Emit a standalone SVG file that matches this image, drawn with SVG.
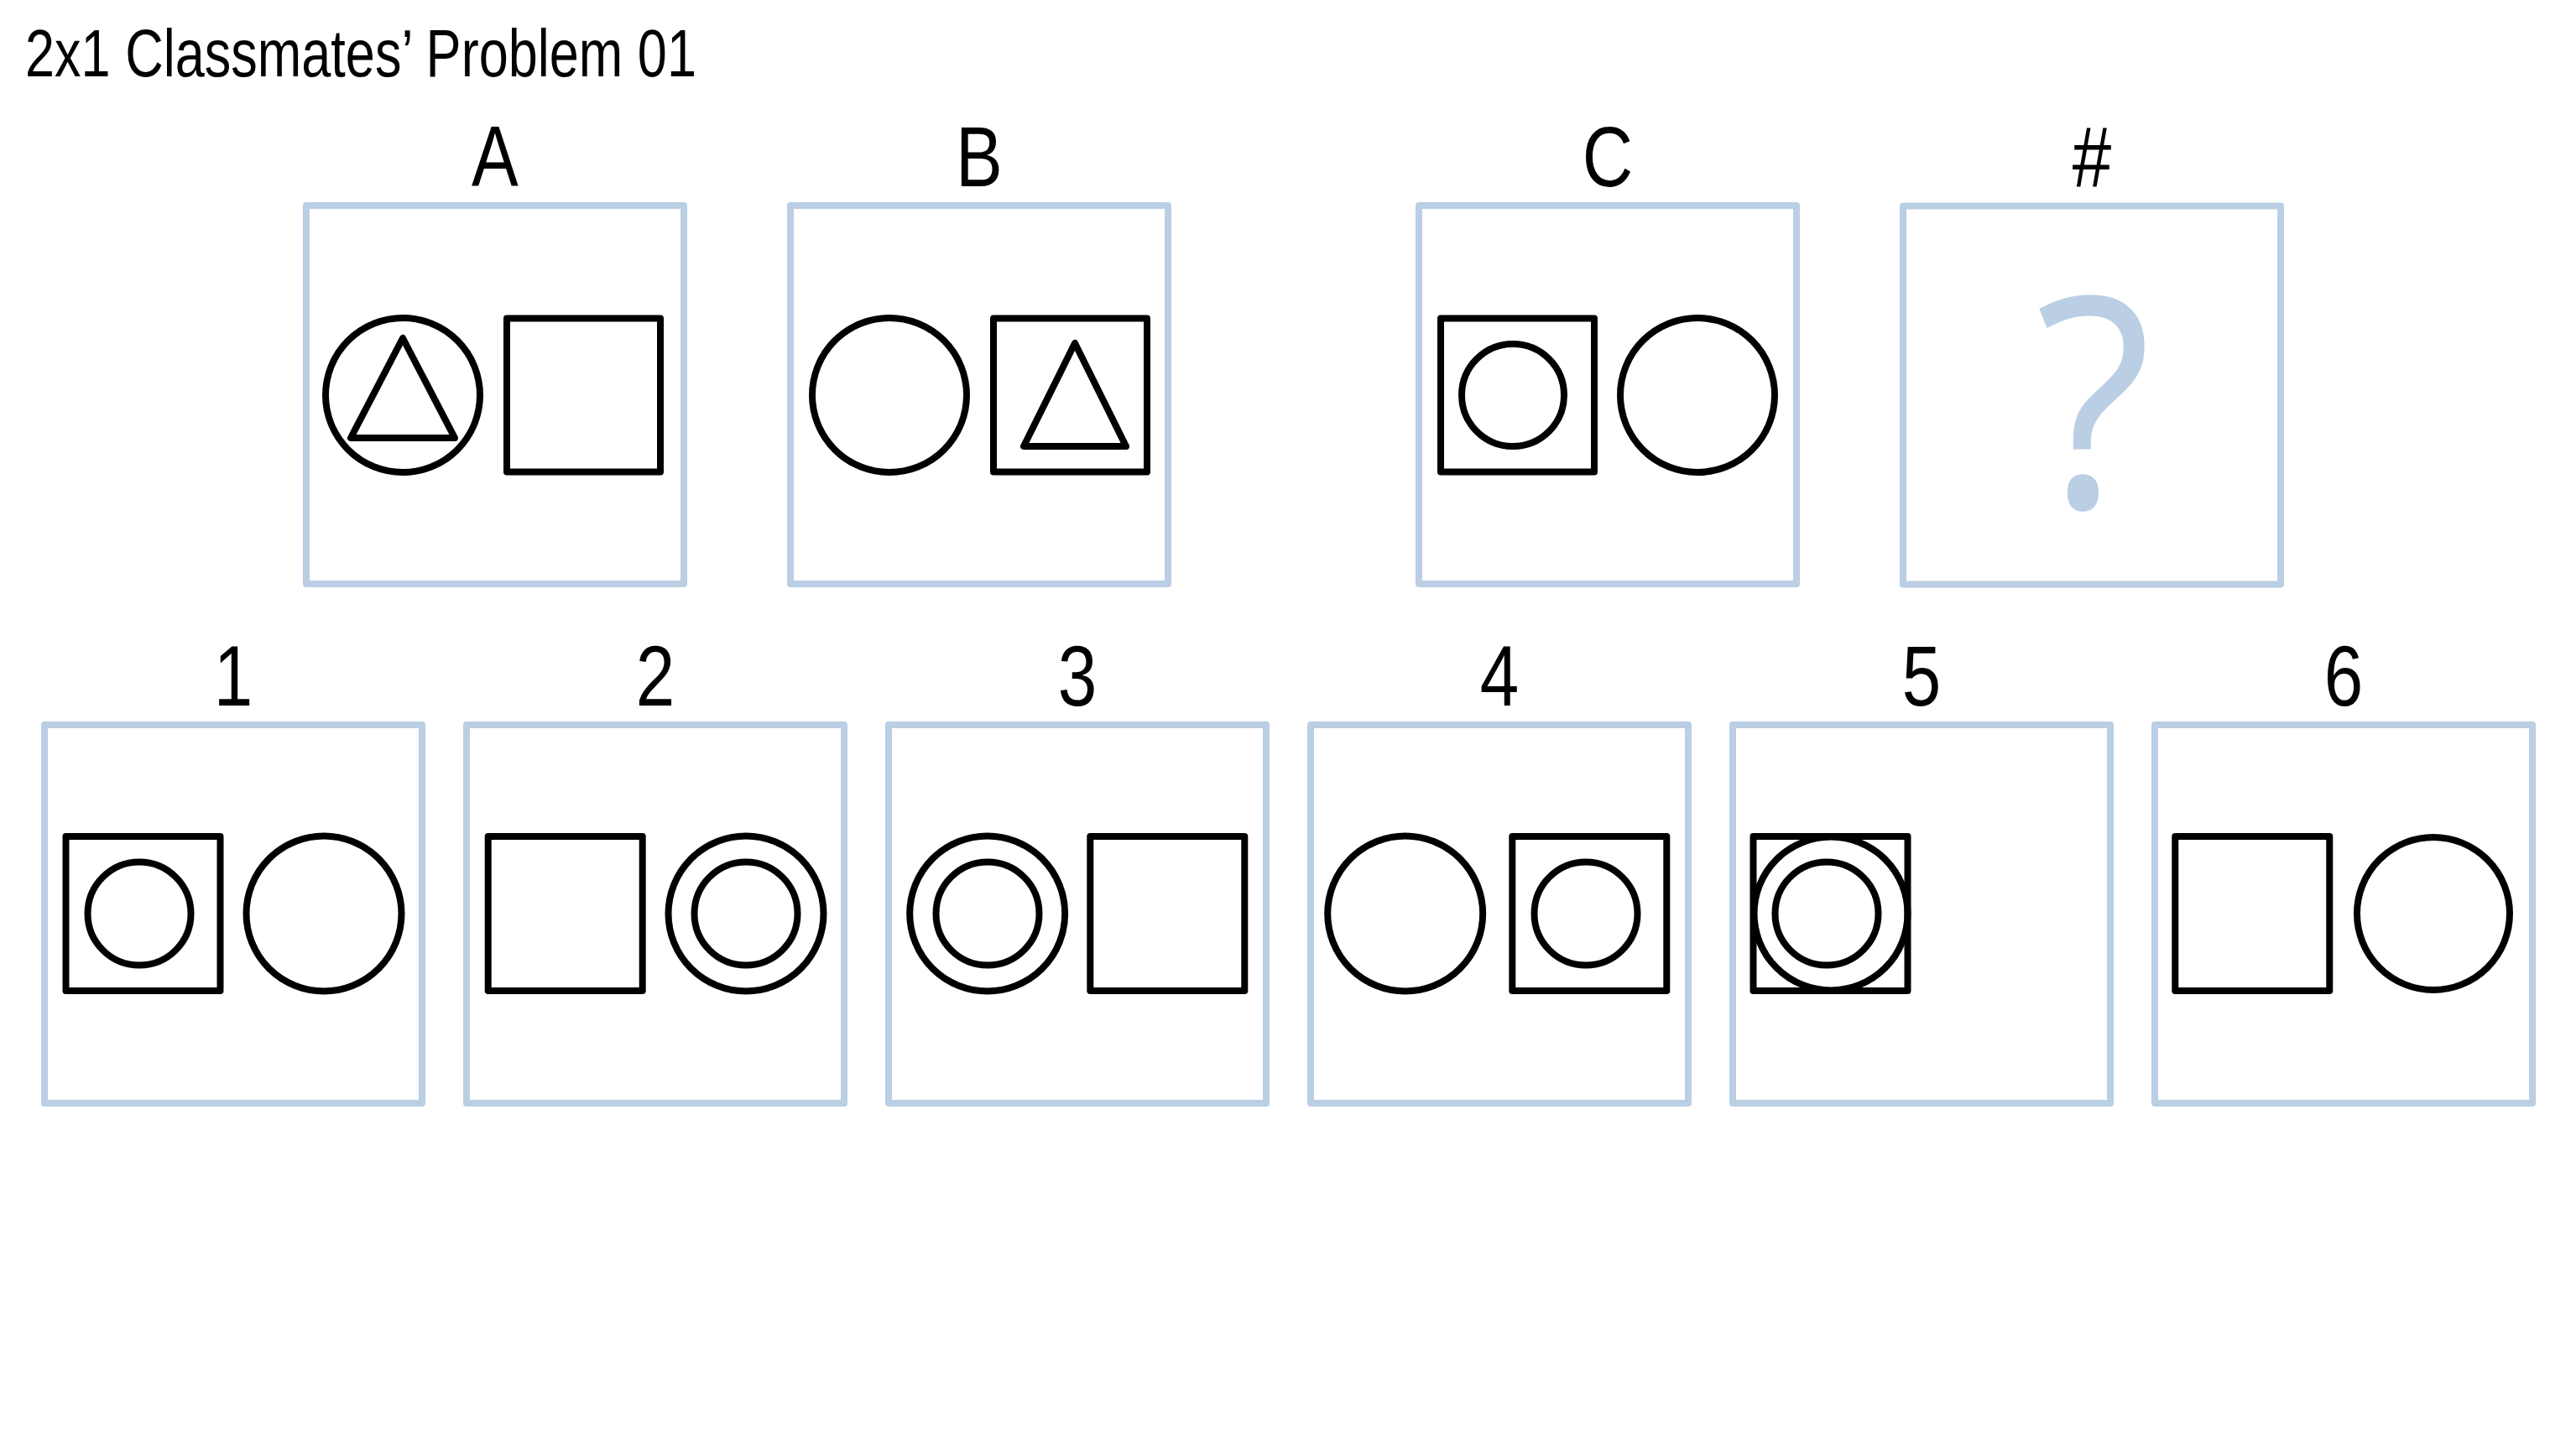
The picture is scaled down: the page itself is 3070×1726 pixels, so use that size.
<svg xmlns="http://www.w3.org/2000/svg" width="3070" height="1726" viewBox="0 0 3070 1726">
  <style>
    .frame { fill: none; stroke: #BACEE4; stroke-width: 8; stroke-linejoin: round; }
    .sh { fill: none; stroke: #000; stroke-width: 8; stroke-linejoin: round; }
    .lbl { font-family: "Liberation Sans", Arial, sans-serif; font-size: 102px; fill: #000; text-anchor: middle; }
    .title { font-family: "Liberation Sans", Arial, sans-serif; font-size: 80px; fill: #000; }
    .q { font-family: "Open Sans", "DejaVu Sans", sans-serif; font-size: 350px; fill: #BACEE4; text-anchor: middle; }
  </style>
  <rect width="3070" height="1726" fill="#fff"/>
  <text class="title" transform="translate(30,91) scale(0.788,1)">2x1 Classmates’ Problem 01</text>

  <g id="node-A">
    <text class="lbl" transform="translate(590,222) scale(0.82,1)">A</text>
    <rect class="frame" x="365" y="245" width="450" height="451"/>
    <circle class="sh" cx="480" cy="471" r="92"/>
    <polygon class="sh" points="480,403 418,522 542,522"/>
    <rect class="sh" x="604" y="379.5" width="183" height="183"/>
  </g>
  <g id="node-B">
    <text class="lbl" transform="translate(1167,222) scale(0.82,1)">B</text>
    <rect class="frame" x="942" y="245" width="450" height="451"/>
    <circle class="sh" cx="1060" cy="471" r="92"/>
    <rect class="sh" x="1184" y="379.5" width="183" height="183"/>
    <polygon class="sh" points="1281,409 1220,532 1342,532"/>
  </g>
  <g id="node-C">
    <text class="lbl" transform="translate(1916,222) scale(0.82,1)">C</text>
    <rect class="frame" x="1691" y="245" width="450" height="451"/>
    <rect class="sh" x="1717" y="379.5" width="183" height="183"/>
    <circle class="sh" cx="1803" cy="471" r="61"/>
    <circle class="sh" cx="2023" cy="471" r="92"/>
  </g>
  <g id="node-Q">
    <text class="lbl" transform="translate(2493,222) scale(0.82,1)">#</text>
    <rect class="frame" x="2268" y="245.5" width="450" height="451"/>
    <text class="q" transform="translate(2495,605) scale(0.92,1)">?</text>
  </g>

  <g id="node-1">
    <text class="lbl" transform="translate(278,841) scale(0.82,1)">1</text>
    <rect class="frame" x="53" y="864" width="450" height="451"/>
    <rect class="sh" x="78.5" y="997" width="184" height="184"/>
    <circle class="sh" cx="166" cy="1089" r="61.5"/>
    <circle class="sh" cx="386" cy="1089" r="92.5"/>
  </g>
  <g id="node-2">
    <text class="lbl" transform="translate(781,841) scale(0.82,1)">2</text>
    <rect class="frame" x="556" y="864" width="450" height="451"/>
    <rect class="sh" x="581.7" y="997" width="184" height="184"/>
    <circle class="sh" cx="889" cy="1089" r="92.5"/>
    <circle class="sh" cx="889" cy="1089" r="61.5"/>
  </g>
  <g id="node-3">
    <text class="lbl" transform="translate(1284,841) scale(0.82,1)">3</text>
    <rect class="frame" x="1059" y="864" width="450" height="451"/>
    <circle class="sh" cx="1176.7" cy="1089" r="92.5"/>
    <circle class="sh" cx="1177" cy="1089" r="61.5"/>
    <rect class="sh" x="1299.3" y="997" width="184" height="184"/>
  </g>
  <g id="node-4">
    <text class="lbl" transform="translate(1787,841) scale(0.82,1)">4</text>
    <rect class="frame" x="1562" y="864" width="450" height="451"/>
    <circle class="sh" cx="1674.7" cy="1089" r="92.5"/>
    <rect class="sh" x="1802.3" y="997" width="184" height="184"/>
    <circle class="sh" cx="1890" cy="1089" r="61.5"/>
  </g>
  <g id="node-5">
    <text class="lbl" transform="translate(2290,841) scale(0.82,1)">5</text>
    <rect class="frame" x="2065" y="864" width="450" height="451"/>
    <rect class="sh" x="2089.5" y="997" width="184" height="184"/>
    <circle class="sh" cx="2182" cy="1089" r="91.5"/>
    <circle class="sh" cx="2177" cy="1089" r="61.5"/>
  </g>
  <g id="node-6">
    <text class="lbl" transform="translate(2793,841) scale(0.82,1)">6</text>
    <rect class="frame" x="2568" y="864" width="450" height="451"/>
    <rect class="sh" x="2592.3" y="997" width="184" height="184"/>
    <circle class="sh" cx="2900" cy="1089" r="91"/>
  </g>

  <g id="connectors"></g>
</svg>
